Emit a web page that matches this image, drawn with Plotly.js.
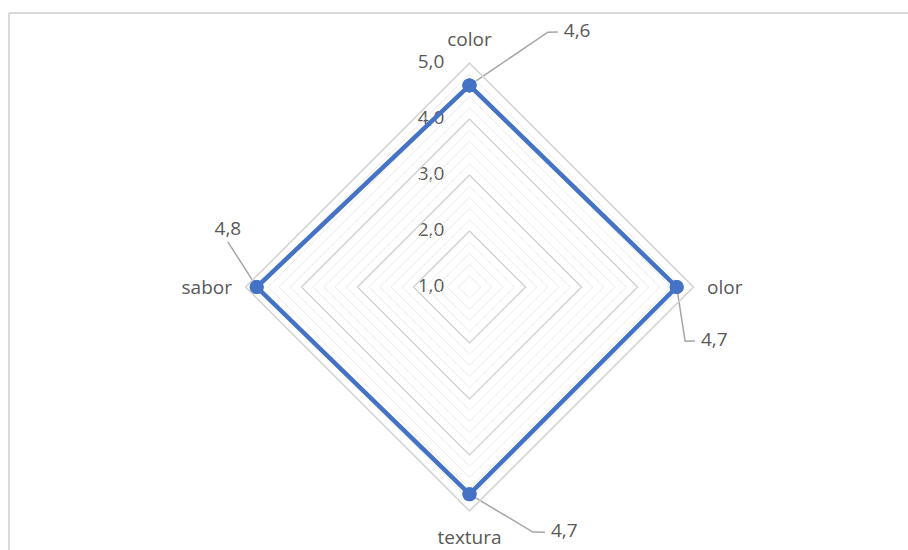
<!DOCTYPE html>
<html>
<head>
<meta charset="utf-8">
<script src="https://cdn.plot.ly/plotly-3.0.1.min.js"></script>
<style>
  html, body { margin: 0; padding: 0; background: #ffffff; }
  #chart { width: 908px; height: 550px; }
</style>
</head>
<body>
<div id="chart"></div>
<script>
// Sensory evaluation scores (scale 1-5)
const categories = ['color', 'olor', 'textura', 'sabor'];
const scores = [4.6, 4.7, 4.7, 4.8];

// Radial scale
const radialMin = 1;
const radialMax = 5;
const majorTicks = [1, 2, 3, 4, 5];
const minorStep = 0.2;

// Data-label leader geometry per category: [r, degrees clockwise from top]
const leaderElbow = [[5.76, 17.1], [4.97, 104.1], [5.52, 165.5], null];
const leaderEnd   = [[5.82, 19.1], [5.14, 103.5], [5.58, 162.9], [5.39, 280.6]];
const labelPos    = ['middle right', 'middle right', 'middle right', 'top center'];
const labelGapPx  = [[6, 0], [6, 0], [6, 0], [0, 2]];

const fmt = v => v.toFixed(1).replace('.', ',');

const FONT = '"Open Sans", "Liberation Sans", sans-serif';
const FONT_SIZE = 19;
const TEXT_COLOR = '#595959';
const SERIES_COLOR = '#4472C4';

// Page geometry: radar centre and radius in pixels
const W = 908, H = 550;
const CX = 469.5, CY = 287, RADIUS = 224;
const pxPerUnit = RADIUS / (radialMax - radialMin);

// all radial grid positions
const gridVals = [];
for (let i = 1; i < Math.round((radialMax - radialMin) / minorStep); i++) {
  gridVals.push(+(radialMin + i * minorStep).toFixed(1));
}

// polar (r, deg) -> overlay cartesian units (1 unit = 1 radial unit)
const toX = (r, deg) => (r - radialMin) * Math.sin(deg * Math.PI / 180);
const toY = (r, deg) => (r - radialMin) * Math.cos(deg * Math.PI / 180);

const traces = [];

// major grid rings
majorTicks.filter(v => v > radialMin).forEach(v => {
  traces.push({
    type: 'scatterpolar',
    r: categories.map(() => v).concat([v]),
    theta: categories.concat([categories[0]]),
    mode: 'lines',
    line: { color: '#d4d4d4', width: 1.5 },
    hoverinfo: 'skip',
    showlegend: false
  });
});

// the score series
traces.push({
  type: 'scatterpolar',
  r: scores.concat([scores[0]]),
  theta: categories.concat([categories[0]]),
  mode: 'lines+markers',
  line: { color: SERIES_COLOR, width: 4.5 },
  marker: { color: SERIES_COLOR, size: 14 },
  showlegend: false
});

// radial tick labels, just left of the vertical axis
traces.push({
  type: 'scatter',
  xaxis: 'x', yaxis: 'y',
  x: majorTicks.map(() => -0.45),
  y: majorTicks.map(v => v - radialMin),
  mode: 'text',
  text: majorTicks.map(fmt),
  textposition: 'middle left',
  textfont: { family: FONT, size: FONT_SIZE, color: TEXT_COLOR },
  cliponaxis: false,
  hoverinfo: 'skip',
  showlegend: false
});

// leader lines and value labels
categories.forEach((c, i) => {
  const ang = i * 360 / categories.length;
  const pts = [[scores[i], ang]];
  if (leaderElbow[i]) pts.push(leaderElbow[i]);
  pts.push(leaderEnd[i]);
  traces.push({
    type: 'scatter',
    xaxis: 'x', yaxis: 'y',
    x: pts.map(p => toX(p[0], p[1])),
    y: pts.map(p => toY(p[0], p[1])),
    mode: 'lines',
    line: { color: '#a6a6a6', width: 1.5 },
    cliponaxis: false,
    hoverinfo: 'skip',
    showlegend: false
  });
  traces.push({
    type: 'scatter',
    xaxis: 'x', yaxis: 'y',
    x: [toX(leaderEnd[i][0], leaderEnd[i][1]) + labelGapPx[i][0] / pxPerUnit],
    y: [toY(leaderEnd[i][0], leaderEnd[i][1]) + labelGapPx[i][1] / pxPerUnit],
    mode: 'text',
    text: [fmt(scores[i])],
    textposition: labelPos[i],
    textfont: { family: FONT, size: FONT_SIZE, color: TEXT_COLOR },
    cliponaxis: false,
    hoverinfo: 'skip',
    showlegend: false
  });
});

// the score markers stay above the leader lines
traces.push({
  type: 'scatterpolar',
  r: scores,
  theta: categories,
  mode: 'markers',
  marker: { color: SERIES_COLOR, size: 14 },
  hoverinfo: 'skip',
  showlegend: false
});

const layout = {
  width: W,
  height: H,
  margin: { l: 0, r: 0, t: 0, b: 0 },
  paper_bgcolor: '#ffffff',
  plot_bgcolor: 'rgba(0,0,0,0)',
  showlegend: false,
  font: { family: FONT, color: TEXT_COLOR },
  // overlay axes sharing the radar's centre and scale
  xaxis: {
    domain: [0, 1],
    range: [-CX / pxPerUnit, (W - CX) / pxPerUnit],
    visible: false, fixedrange: true
  },
  yaxis: {
    domain: [0, 1],
    range: [-(H - CY) / pxPerUnit, CY / pxPerUnit],
    visible: false, fixedrange: true
  },
  polar: {
    domain: { x: [(CX - RADIUS) / W, (CX + RADIUS) / W], y: [(H - CY - RADIUS) / H, (H - CY + RADIUS) / H] },
    bgcolor: 'rgba(0,0,0,0)',
    gridshape: 'linear',
    radialaxis: {
      range: [radialMin, radialMax],
      angle: 90,
      tickvals: gridVals,
      showticklabels: false,
      ticks: '',
      showline: false,
      gridcolor: '#ebebeb',
      gridwidth: 1
    },
    angularaxis: {
      type: 'category',
      categoryarray: categories,
      rotation: 90,
      direction: 'clockwise',
      showgrid: false,
      showline: true,
      linecolor: '#d4d4d4',
      linewidth: 1.5,
      ticks: 'outside',
      ticklen: 9,
      tickcolor: 'rgba(0,0,0,0)',
      tickfont: { family: FONT, size: FONT_SIZE, color: TEXT_COLOR }
    }
  },
  shapes: [
    { type: 'line', xref: 'paper', yref: 'paper', x0: 9 / W, x1: 1, y0: 1 - 13 / H, y1: 1 - 13 / H,
      line: { color: '#d9d9d9', width: 2 } },
    { type: 'line', xref: 'paper', yref: 'paper', x0: 9 / W, x1: 9 / W, y0: 0, y1: 1 - 13 / H,
      line: { color: '#d9d9d9', width: 2 } }
  ]
};

Plotly.newPlot('chart', traces, layout, { displayModeBar: false, staticPlot: true });
</script>
</body>
</html>
